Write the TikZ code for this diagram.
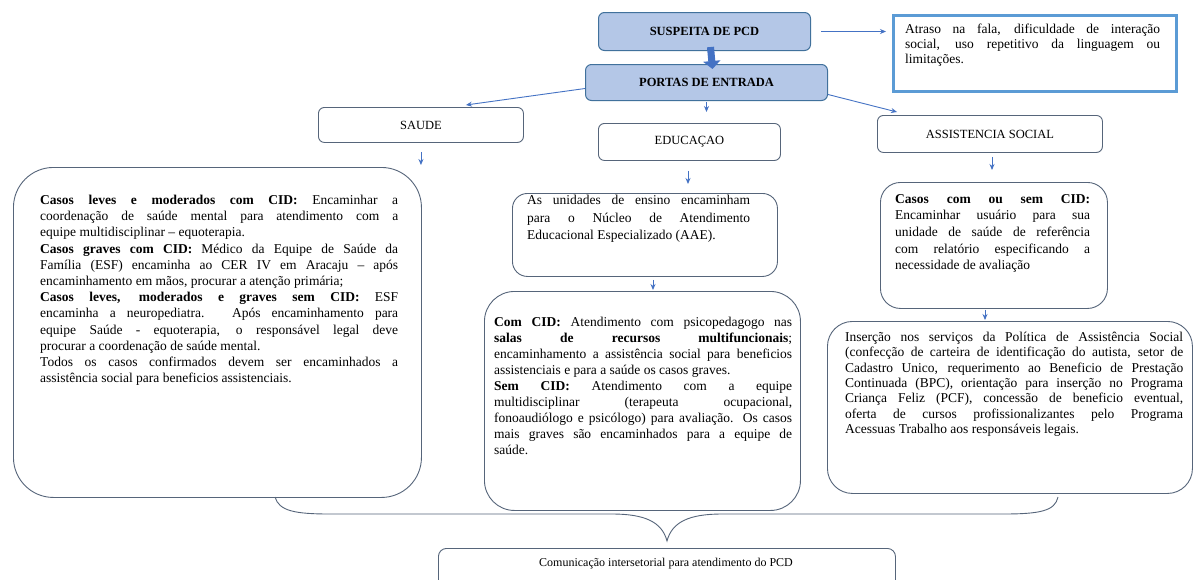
\documentclass[tikz,border=0pt]{standalone}
\usepackage{fontspec}
\setmainfont{Liberation Serif}
\usetikzlibrary{arrows.meta}
\definecolor{edgec}{HTML}{56657A}
\definecolor{fillblue}{HTML}{B4C7E7}
\definecolor{blueedge}{HTML}{41719C}
\definecolor{arrowc}{HTML}{4472C4}
\definecolor{frameblue}{HTML}{5B9BD5}
\begin{document}
\begin{tikzpicture}[x=1pt,y=-1pt,
  box/.style={draw=edgec, line width=0.9pt, rounded corners=#1, inner sep=0pt, anchor=north west},
  box/.default=6pt,
  headbox/.style={draw=blueedge, fill=fillblue, line width=1pt, rounded corners=6pt, inner sep=0pt, anchor=north west, font=\fontsize{12.5}{15}\selectfont\bfseries},
  txt/.style={inner sep=0pt, anchor=north west, align=justify, font=\fontsize{13.5}{#1}\selectfont},
  txt/.default=16,
  arr/.style={draw=arrowc, line width=0.9pt, -{Stealth[length=6pt,width=5pt]}},
  blockarrow/.style={draw=arrowc, line width=7pt, -{Triangle[length=8pt,width=17pt]}},
]
\useasboundingbox (0,0) rectangle (1193,579);
\fill[white] (0,0) rectangle (1193,579);

% top boxes
\node[headbox, minimum width=212pt, minimum height=38pt] (susp) at (598,12) {SUSPEITA DE PCD};
\node[headbox, minimum width=242pt, minimum height=36pt] (portas) at (585,64) {PORTAS DE ENTRADA};
\node[draw=frameblue, line width=3pt, inner sep=0pt, anchor=north west, minimum width=283pt, minimum height=76pt] (atraso) at (892,14) {};
\node[txt=15, text width=255pt] (atrasotxt) at (905,24) {Atraso na fala, dificuldade de interação\linebreak social, uso repetitivo da linguagem ou\linebreak limitações.};

% sector boxes
\node[box, minimum width=205pt, minimum height=35pt, font=\fontsize{12.5}{14}\selectfont] (saude) at (318,107) {SAUDE};
\node[box, minimum width=182pt, minimum height=37pt, font=\fontsize{12.5}{14}\selectfont] (educ) at (598,123) {EDUCAÇAO};
\node[box, minimum width=225pt, minimum height=37pt, font=\fontsize{12.5}{14}\selectfont] (assist) at (877,115) {ASSISTENCIA SOCIAL};

% detail boxes
\node[box=40pt, minimum width=408pt, minimum height=330pt] (left) at (13,167) {};
\node[txt=16.2, text width=358pt] (lefttxt) at (40,195) {\textbf{Casos leves e moderados com CID:} Encaminhar a\linebreak coordenação de saúde mental para atendimento com a\linebreak equipe multidisciplinar – equoterapia.\par
\textbf{Casos graves com CID:} Médico da Equipe de Saúde da\linebreak Família (ESF) encaminha ao CER IV em Aracaju – após\linebreak encaminhamento em mãos, procurar a atenção primária;\par
\textbf{Casos leves, moderados e graves sem CID:} ESF\linebreak encaminha a neuropediatra. Após encaminhamento para\linebreak equipe Saúde - equoterapia, o responsável legal deve\linebreak procurar a coordenação de saúde mental.\par
Todos os casos confirmados devem ser encaminhados a\linebreak assistência social para beneficios assistenciais.};

\node[box=15pt, minimum width=265pt, minimum height=83pt] (unid) at (512,193) {};
\node[txt=17.5, text width=223pt] (unidtxt) at (527,195) {As unidades de ensino encaminham\linebreak para o Núcleo de Atendimento\linebreak Educacional Especializado (AAE).};

\node[box=30pt, minimum width=316pt, minimum height=219pt] (comcid) at (484,291) {};
\node[txt=16, text width=298pt] (comcidtxt) at (494,317) {\textbf{Com CID:} Atendimento com psicopedagogo nas\linebreak \textbf{salas de recursos multifuncionais};\linebreak encaminhamento a assistência social para beneficios\linebreak assistenciais e para a saúde os casos graves.\par
\textbf{Sem CID:} Atendimento com a equipe\linebreak multidisciplinar (terapeuta ocupacional,\linebreak fonoaudiólogo e psicólogo) para avaliação. Os casos\linebreak mais graves são encaminhados para a equipe de\linebreak saúde.};

\node[box=20pt, minimum width=227pt, minimum height=126pt] (casos) at (880,182) {};
\node[txt=16.7, text width=195pt] (casostxt) at (895,194) {\textbf{Casos com ou sem CID:}\linebreak Encaminhar usuário para sua\linebreak unidade de saúde de referência\linebreak com relatório especificando a\linebreak necessidade de avaliação};

\node[box=25pt, minimum width=365pt, minimum height=172pt] (insercao) at (827,321) {};
\node[txt=15.3, text width=338pt] (insercaotxt) at (845,332) {Inserção nos serviços da Política de Assistência Social\linebreak (confecção de carteira de identificação do autista, setor de\linebreak Cadastro Unico, requerimento ao Beneficio de Prestação\linebreak Continuada (BPC), orientação para inserção no Programa\linebreak Criança Feliz (PCF), concessão de beneficio eventual,\linebreak oferta de cursos profissionalizantes pelo Programa\linebreak Acessuas Trabalho aos responsáveis legais.};

% bottom box
\node[box=8pt, minimum width=457pt, minimum height=45pt] (comm) at (438,548) {};
\node[inner sep=0pt, font=\fontsize{12}{14}\selectfont] (commtxt) at (666,564) {Comunicação intersetorial para atendimento do PCD};

% brace
\coordinate (bl) at (275,497);
\coordinate (br) at (1058,497);
\coordinate (btip) at (667,541);
\draw[edgec, line width=0.9pt] (bl) .. controls (279,511) and (295,514) .. (330,514) -- (612,514) .. controls (645,514) and (662,522) .. (btip) .. controls (672,522) and (689,514) .. (722,514) -- (1003,514) .. controls (1040,514) and (1055,511) .. (br);

% arrows
\draw[blockarrow] ([xshift=6pt,yshift=4pt]susp.south) -- ([xshift=6pt,yshift=-5pt]portas.north);
\draw[arr, shorten <=10pt, shorten >=6pt] (susp.east) -- (susp.east -| atraso.west);
\draw[arr] ([yshift=-6pt]portas.west) -- ([xshift=-58pt,yshift=2pt]saude.north east);
\draw[arr] ([yshift=-12pt]portas.east) -- ([xshift=20pt,yshift=3pt]assist.north west);
\draw[arr, shorten <=1pt, shorten >=11pt] (portas.south) -- (portas.south |- educ.north);
\draw[arr, shorten <=9pt, shorten >=2pt] (saude.south) -- (saude.south |- left.north);
\draw[arr, shorten <=10pt, shorten >=9pt] (educ.south -| 688,0) -- (unid.north -| 688,0);
\draw[arr, shorten <=3pt, shorten >=1pt] (unid.south -| 653,0) -- (comcid.north -| 653,0);
\draw[arr, shorten <=4pt, shorten >=12pt] (assist.south -| 992,0) -- (casos.north -| 992,0);
\draw[arr, shorten <=1pt, shorten >=1pt] (casos.south -| 985,0) -- (insercao.north -| 985,0);
\end{tikzpicture}
\end{document}
